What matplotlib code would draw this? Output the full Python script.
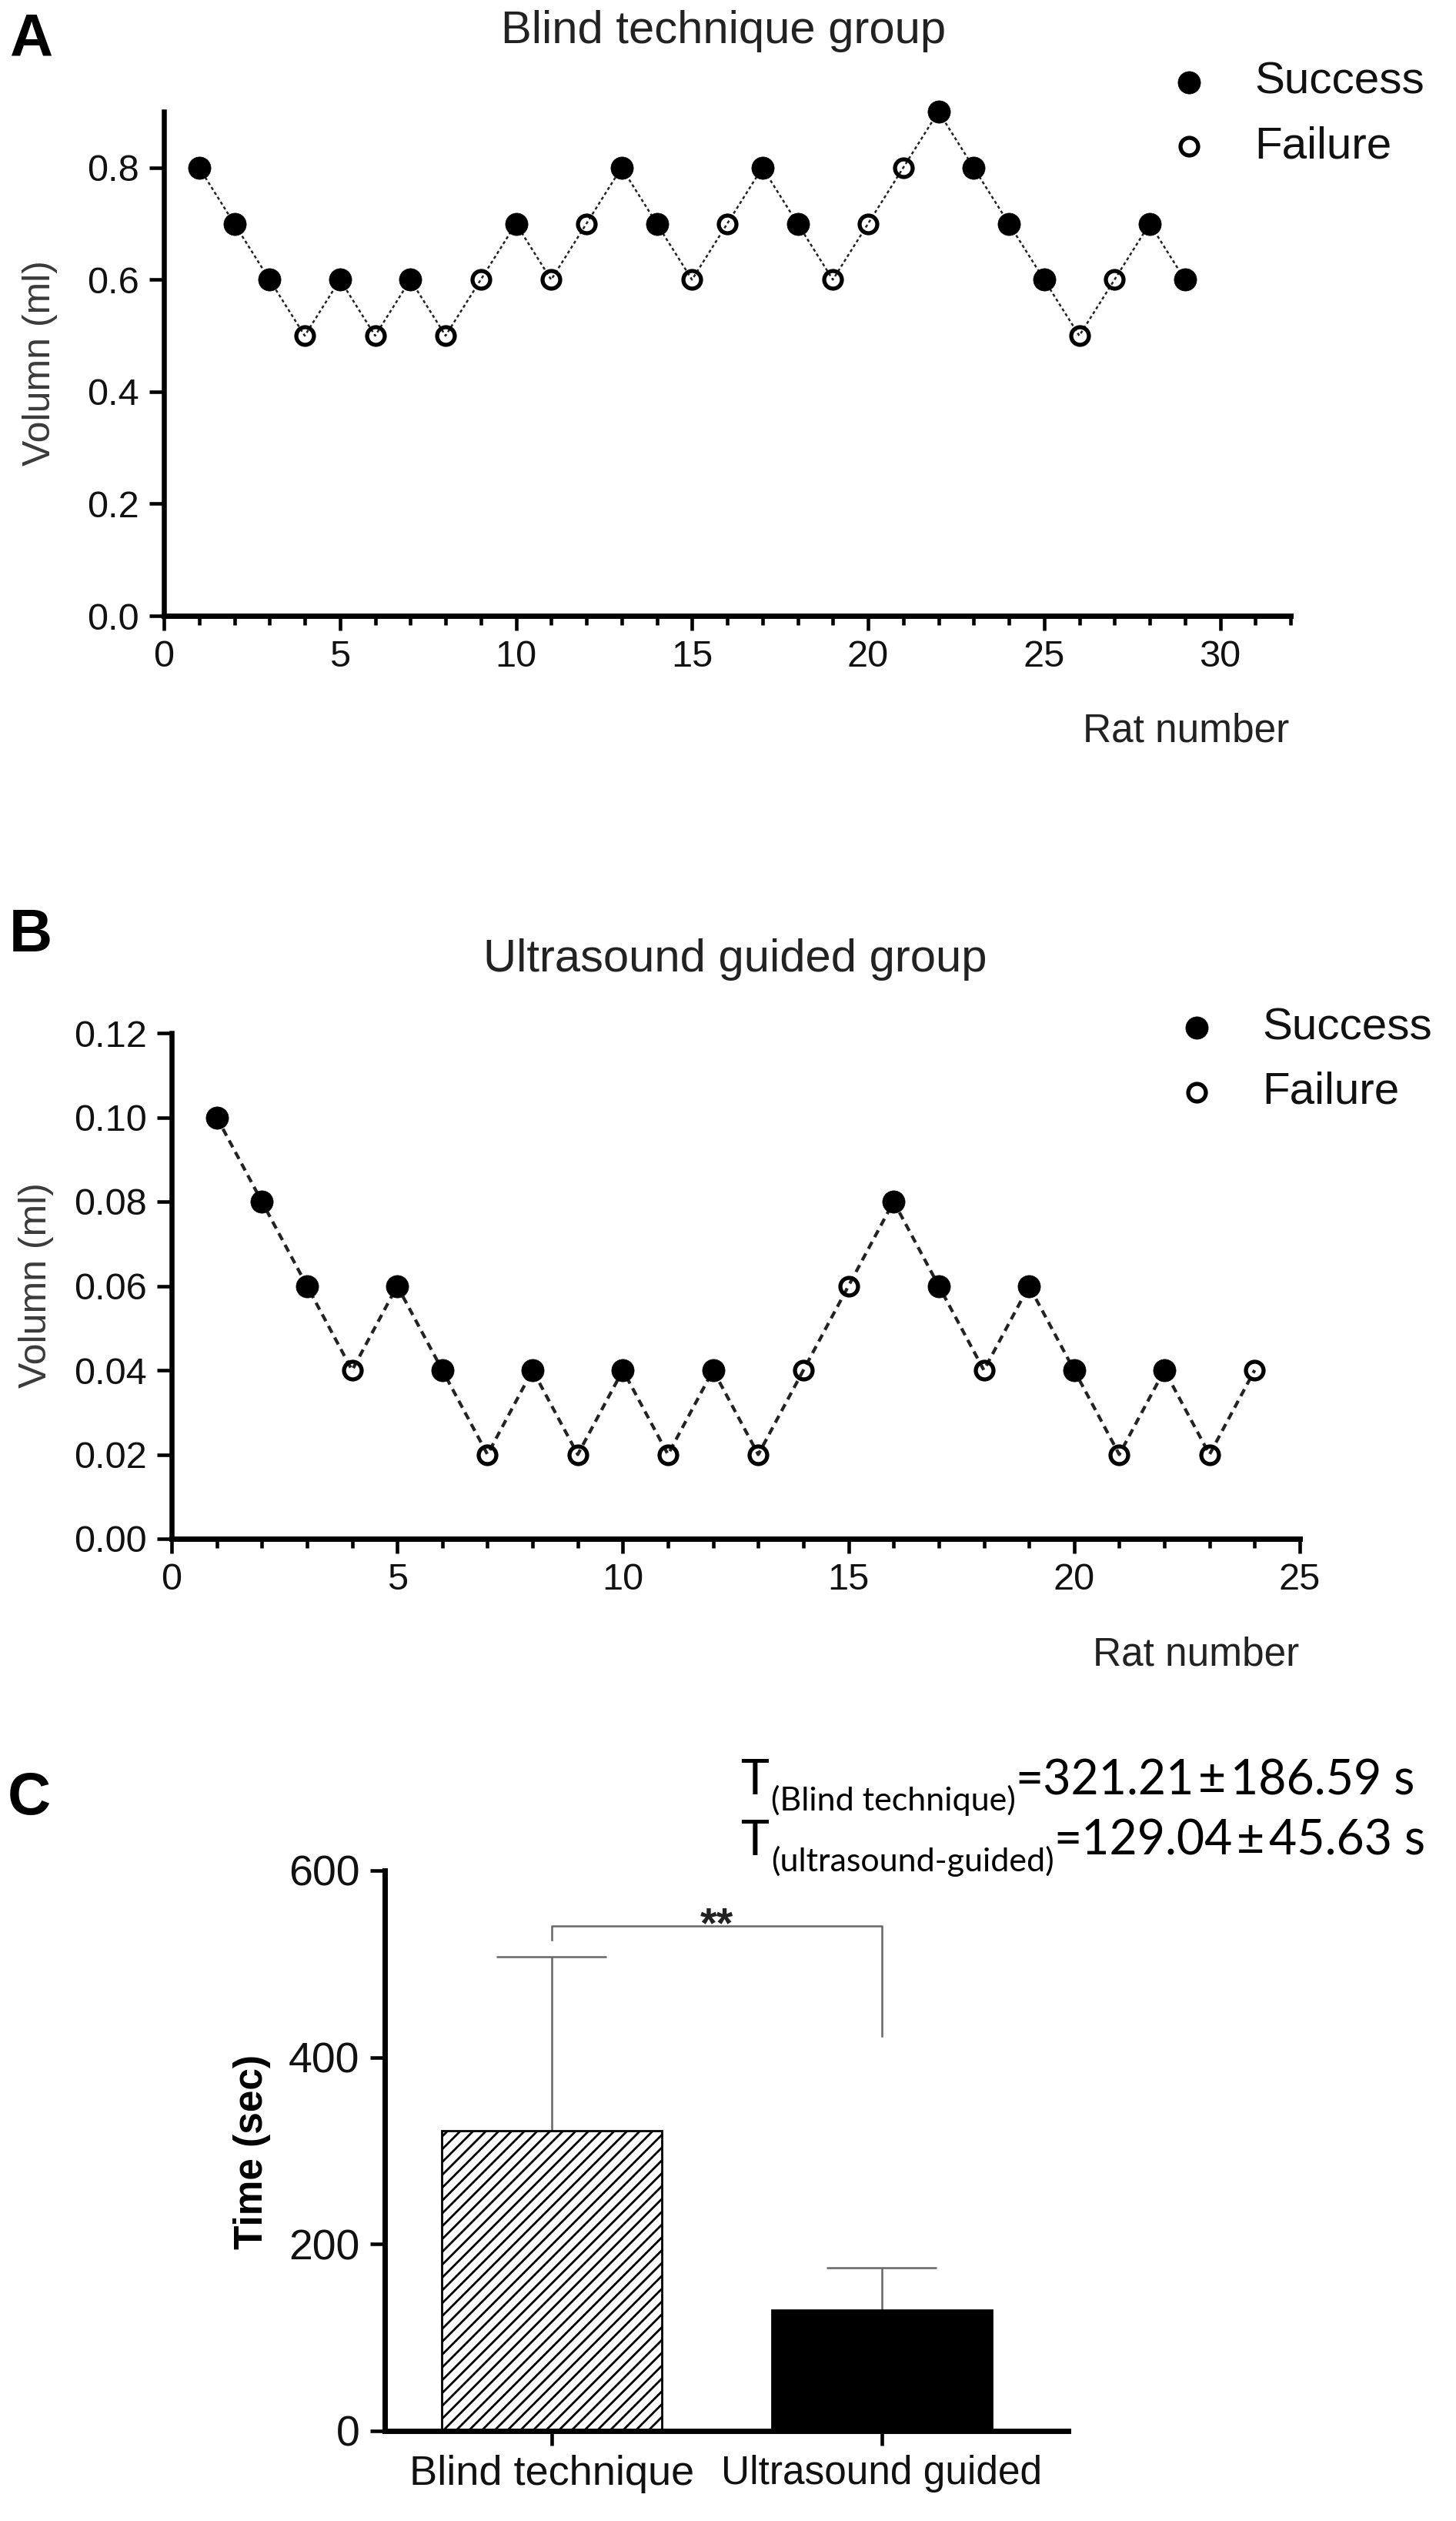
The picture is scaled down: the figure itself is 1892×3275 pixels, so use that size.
import matplotlib
matplotlib.use("Agg")
import matplotlib.pyplot as plt
import numpy as np
from matplotlib import font_manager
from matplotlib.lines import Line2D

W, H = 1892, 3275
DPI = 100

# ---- data ----
blind_rat = list(range(1, 30))
blind_volume = [0.8, 0.7, 0.6, 0.5, 0.6, 0.5, 0.6, 0.5, 0.6, 0.7,
                0.6, 0.7, 0.8, 0.7, 0.6, 0.7, 0.8, 0.7, 0.6, 0.7,
                0.8, 0.9, 0.8, 0.7, 0.6, 0.5, 0.6, 0.7, 0.6]
blind_success = [1, 1, 1, 0, 1, 0, 1, 0, 0, 1,
                 0, 0, 1, 1, 0, 0, 1, 1, 0, 0,
                 0, 1, 1, 1, 1, 0, 0, 1, 1]

us_rat = list(range(1, 25))
us_volume = [0.10, 0.08, 0.06, 0.04, 0.06, 0.04, 0.02, 0.04, 0.02, 0.04,
             0.02, 0.04, 0.02, 0.04, 0.06, 0.08, 0.06, 0.04, 0.06, 0.04,
             0.02, 0.04, 0.02, 0.04]
us_success = [1, 1, 1, 0, 1, 1, 0, 1, 0, 1,
              0, 1, 0, 0, 0, 1, 1, 0, 1, 1,
              0, 1, 0, 0]

groups = ["Blind technique", "Ultrasound guided"]
time_mean = [321.21, 129.04]
time_sd = [186.59, 45.63]
bracket_top = 541
bracket_ends = [526, 423]

plt.rcParams["font.family"] = ["Liberation Sans", "DejaVu Sans"]
plt.rcParams["hatch.linewidth"] = 2.0
ANNOT_FONT = ["Lato", "DejaVu Sans"]


def narrow_font():
    # the second group label is squeezed in the original; use a narrow face if present
    for name in ("Liberation Sans Narrow", "DejaVu Sans Condensed"):
        try:
            font_manager.findfont(font_manager.FontProperties(family=name),
                                  fallback_to_default=False)
            return name
        except ValueError:
            pass
    return None


fig = plt.figure(figsize=(W / DPI, H / DPI), dpi=DPI)


def px_axes(left, top, right, bottom):
    return fig.add_axes([left / W, 1 - bottom / H, (right - left) / W, (bottom - top) / H])


def ftext(x, y, s, **kw):
    return fig.text(x / W, 1 - y / H, s, **kw)


def style_axes(ax, xlw=5, ylw=4.7):
    for side in ("top", "right"):
        ax.spines[side].set_visible(False)
    ax.spines["bottom"].set_linewidth(xlw)
    ax.spines["left"].set_linewidth(ylw)
    ax.spines["bottom"].set_capstyle("projecting")
    ax.spines["left"].set_capstyle("projecting")


def updown_panel(ax, rat, vol, ok, xmax, ymax, ystep, yfmt, lw, dashes):
    rat = np.array(rat)
    vol = np.array(vol)
    ok = np.array(ok, dtype=bool)
    ax.plot(rat, vol, color="#222222", lw=lw, dashes=dashes, zorder=1)
    ax.plot(rat[ok], vol[ok], "o", ms=21, mfc="black", mec="black", mew=0.5,
            ls="none", zorder=3, clip_on=False)
    ax.plot(rat[~ok], vol[~ok], "o", ms=16.5, mfc="none", mec="black", mew=3.8,
            ls="none", zorder=3, clip_on=False)
    ax.set_xlim(0, xmax)
    ax.set_ylim(0, ymax)
    ax.set_xticks(np.arange(0, xmax + 0.1, 5))
    ax.set_xticks(np.arange(0, xmax + 0.1, 1), minor=True)
    yt = np.arange(0, ymax + 1e-9, ystep)
    ax.set_yticks(yt)
    ax.set_yticklabels([yfmt.format(v) for v in yt])
    style_axes(ax)
    ax.tick_params(axis="both", which="major", direction="out", length=14,
                   width=3.3, labelsize=35, colors="black", labelcolor="#111111")
    ax.tick_params(axis="x", which="minor", direction="out", length=8.5, width=3.3)
    ax.tick_params(axis="x", which="major", pad=8)
    ax.tick_params(axis="y", which="major", pad=9)


def legend_block(mx, tx, y_success, y_failure):
    fig.add_artist(Line2D([mx / W], [1 - y_success / H], marker="o", ms=21,
                          mfc="black", mec="black", mew=0.5, ls="none"))
    fig.add_artist(Line2D([mx / W], [1 - y_failure / H], marker="o", ms=16.5,
                          mfc="none", mec="black", mew=3.8, ls="none"))
    ftext(tx, y_success, "Success", fontsize=42, va="center", ha="left", color="#111111")
    ftext(tx, y_failure, "Failure", fontsize=42, va="center", ha="left", color="#111111")


# ---- panel A ----
ax_a = px_axes(213, 145, 1677, 800)
updown_panel(ax_a, blind_rat, blind_volume, blind_success, 32, 0.9, 0.2, "{:.1f}",
             lw=1.8, dashes=(1.6, 1.4))
ftext(940, 40, "Blind technique group", fontsize=43, ha="center", va="center", color="#222222")
ftext(12, 52, "A", fontsize=56, fontweight="bold", ha="left", va="center")
ftext(1675, 950, "Rat number", fontsize=37, ha="right", va="center", color="#222222")
ftext(52, 472, "Volumn (ml)", fontsize=36, rotation=90, ha="center", va="center", color="#3a3a3a")
legend_block(1545, 1630, 107, 190)

# ---- panel B ----
ax_b = px_axes(223, 1342, 1689, 1999)
updown_panel(ax_b, us_rat, us_volume, us_success, 25, 0.12, 0.02, "{:.2f}",
             lw=3.0, dashes=(2.4, 1.7))
ftext(955, 1247, "Ultrasound guided group", fontsize=43, ha="center", va="center", color="#222222")
ftext(12, 1216, "B", fontsize=56, fontweight="bold", ha="left", va="center")
ftext(1688, 2150, "Rat number", fontsize=37, ha="right", va="center", color="#222222")
ftext(47, 1670, "Volumn (ml)", fontsize=36, rotation=90, ha="center", va="center", color="#3a3a3a")
legend_block(1555, 1640, 1335, 1419)

# ---- panel C ----
ax_c = px_axes(500, 2430, 1388, 3158)
x = np.arange(len(groups))
bar_w = 0.667
bars = ax_c.bar(x, time_mean, width=bar_w, color=["white", "black"],
                edgecolor="black", linewidth=2, zorder=2)
bars[0].set_hatch("//")
cap_half = bar_w / 4
tops = np.array(time_mean) + np.array(time_sd)
ax_c.vlines(x, time_mean, tops, color="#666666", lw=1.8, zorder=1)
ax_c.hlines(tops, x - cap_half, x + cap_half, color="#666666", lw=1.8, zorder=1)
ax_c.plot([x[0], x[0], x[1], x[1]],
          [bracket_ends[0], bracket_top, bracket_top, bracket_ends[1]],
          color="#666666", lw=1.8, clip_on=False)
ax_c.text((x[0] + x[1]) / 2, bracket_top - 12, "**", fontsize=40, fontweight="bold",
          ha="center", va="baseline", color="#222222")
ax_c.set_xlim(-0.505, 1.565)
ax_c.set_ylim(0, 600)
ax_c.set_yticks([0, 200, 400, 600])
ax_c.set_xticks(x)
ax_c.set_xticklabels(groups)
style_axes(ax_c, xlw=5, ylw=5)
ax_c.tick_params(axis="y", direction="out", length=13.5, width=3.3, labelsize=40,
                 labelcolor="#111111", pad=10)
ax_c.tick_params(axis="x", direction="out", length=13.5, width=3.3, labelsize=39,
                 labelcolor="#111111", pad=9)
narrow = narrow_font()
second = ax_c.get_xticklabels()[1]
if narrow:
    second.set_family([narrow, "Liberation Sans"])
else:
    second.set_fontsize(37)
ftext(327, 2795, "Time (sec)", fontsize=37, fontweight="bold", rotation=90,
      ha="center", va="center")
ftext(10, 2336, "C", fontsize=56, fontweight="bold", ha="left", va="center")


def stat_line(x0, y0, sub, mean, sd):
    t = ftext(x0, y0, "T", fontsize=45, family=ANNOT_FONT, ha="left", va="baseline")
    pieces = [("(" + sub + ")", 31, 2, -12), ("=" + mean, 45, 0, 0),
              ("\u00b1", 45, 4, 0), (sd + " s", 45, 4, 0)]
    prev = t
    for s, size, gap, dy in pieces:
        prev = ax_c.annotate(s, xy=(1, 0), xycoords=(prev, t), xytext=(gap, dy),
                             textcoords="offset points", fontsize=size,
                             family=ANNOT_FONT, ha="left", va="bottom",
                             annotation_clip=False)


stat_line(962, 2331, "Blind technique", f"{time_mean[0]:.2f}", f"{time_sd[0]:.2f}")
stat_line(962, 2410, "ultrasound-guided", f"{time_mean[1]:.2f}", f"{time_sd[1]:.2f}")

fig.savefig("out.png", dpi=DPI)
